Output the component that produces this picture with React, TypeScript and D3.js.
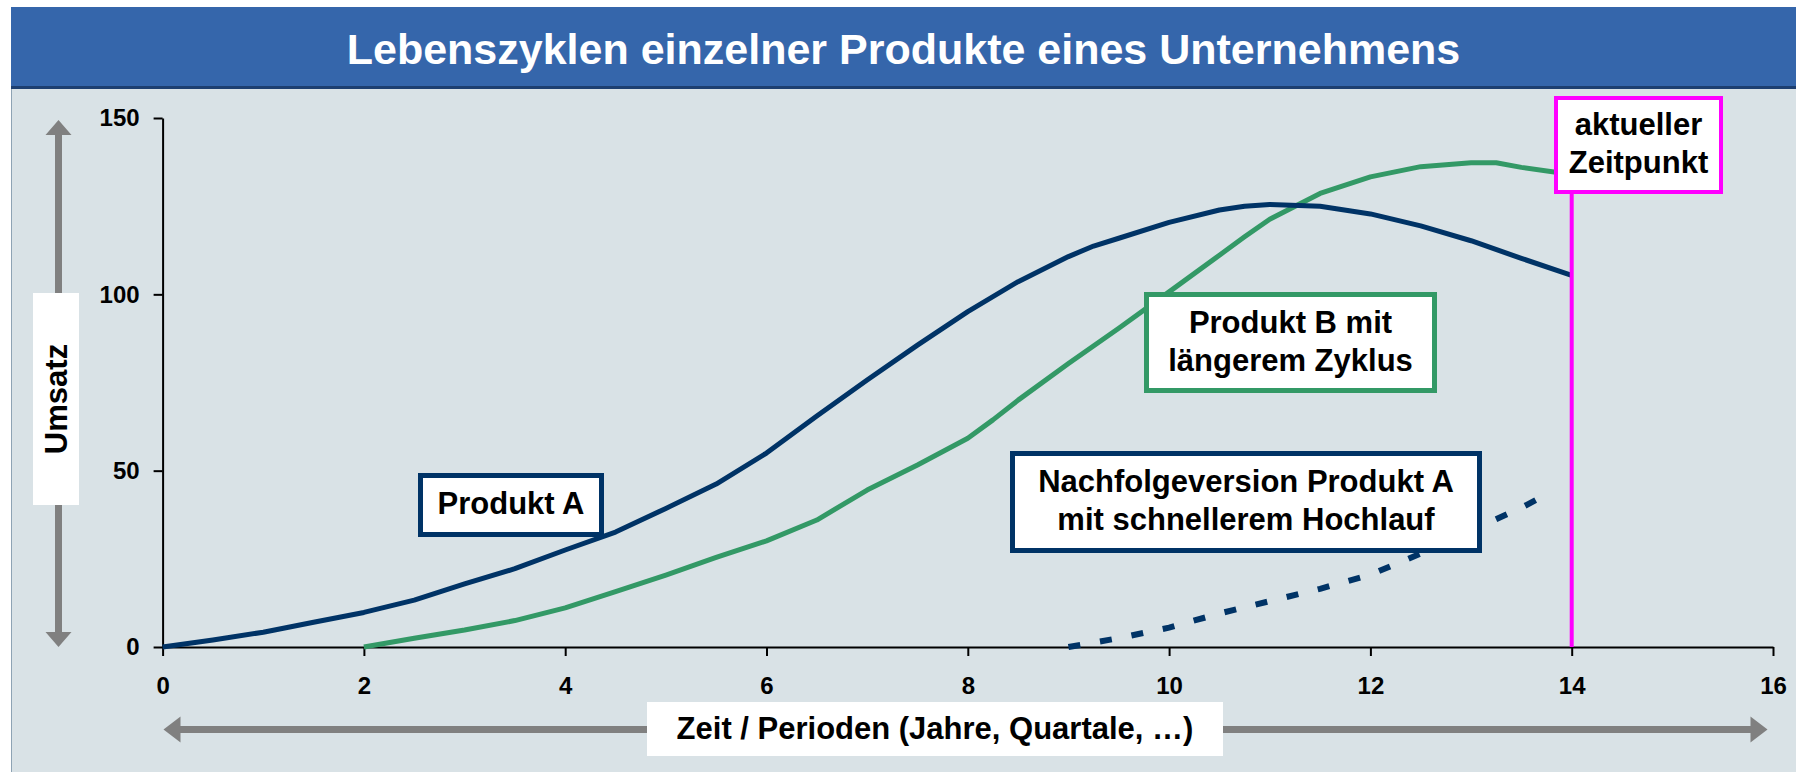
import React, { useEffect, useRef } from "react";
import * as d3 from "d3";

const W = 1796;
const H = 772;
const FONT = "'Liberation Sans', Arial, Helvetica, sans-serif";

// Achsen
const xTicks = [0, 2, 4, 6, 8, 10, 12, 14, 16];
const yTicks = [0, 50, 100, 150];

// Produkt A
const periodsA = [0, 0.5, 1, 1.5, 2, 2.5, 3, 3.5, 4, 4.5, 5, 5.5, 6, 6.5, 7, 7.5, 8, 8.5, 9, 9.25, 9.5, 10, 10.5, 10.75, 11, 11.5, 12, 12.5, 13, 13.5, 14];
const umsatzA = [0, 2, 4.2, 7, 9.8, 13.3, 17.9, 22.2, 27.5, 32.6, 39.3, 46.2, 55, 65.5, 75.7, 85.6, 95.1, 103.6, 110.7, 113.7, 115.9, 120.4, 123.9, 125, 125.5, 125, 122.8, 119.4, 115.2, 110.2, 105.4];

// Produkt B mit längerem Zyklus
const periodsB = [2, 2.5, 3, 3.5, 4, 4.5, 5, 5.5, 6, 6.5, 7, 7.5, 8, 8.25, 8.5, 9, 9.5, 10, 10.5, 10.75, 11, 11.5, 12, 12.5, 13, 13.25, 13.5, 14];
const umsatzB = [0, 2.5, 4.8, 7.5, 11.1, 15.7, 20.4, 25.4, 30.1, 36, 44.5, 51.6, 59.2, 64.4, 70, 80.4, 90.4, 100.7, 111.1, 116.3, 121.3, 128.6, 133.3, 136.2, 137.3, 137.3, 136, 134];

// Nachfolgeversion Produkt A
const periodsNeu = [9, 9.5, 10, 10.5, 11, 11.5, 12, 12.5, 13, 13.5, 13.8];
const umsatzNeu = [0, 2.5, 5.5, 9.5, 13, 16.5, 20.5, 26.5, 33, 39.5, 44];

const aktuellerZeitpunkt = 14;

const NAVY = "#003366";
const GREEN = "#339966";
const MAGENTA = "#ff00ff";
const GREY = "#808080";

export default function App() {
  const ref = useRef<SVGSVGElement | null>(null);

  useEffect(() => {
    const svg = d3.select(ref.current);
    svg.selectAll("*").remove();

    const x = d3.scaleLinear().domain([0, 16]).range([162.6, 1773]);
    const y = d3.scaleLinear().domain([0, 150]).range([647, 118]);

    // Rahmen + Titel
    svg.append("rect").attr("x", 11.5).attr("y", 7.5).attr("width", W).attr("height", H)
      .attr("fill", "#d9e2e6").attr("stroke", "#8ea3b4").attr("stroke-width", 1);
    svg.append("rect").attr("x", 11).attr("y", 7).attr("width", W).attr("height", 80)
      .attr("fill", "#3566ab");
    svg.append("rect").attr("x", 11).attr("y", 86).attr("width", W).attr("height", 3)
      .attr("fill", "#1d3f70");
    svg.append("text").attr("x", (11 + W) / 2).attr("y", 64)
      .attr("text-anchor", "middle").attr("fill", "#fff")
      .style("font", `bold 43px ${FONT}`)
      .text("Lebenszyklen einzelner Produkte eines Unternehmens");

    // Pfeile
    const arrow = (g: any, x1: number, y1: number, x2: number, y2: number) => {
      g.append("line").attr("x1", x1).attr("y1", y1).attr("x2", x2).attr("y2", y2)
        .attr("stroke", GREY).attr("stroke-width", 7);
    };
    const arrows = svg.append("g");
    // vertikal
    arrow(arrows, 58.5, 133, 58.5, 634);
    arrows.append("path").attr("d", "M58.5,120 L71.5,135 L45.5,135 Z").attr("fill", GREY);
    arrows.append("path").attr("d", "M58.5,647 L71.5,632 L45.5,632 Z").attr("fill", GREY);
    // horizontal
    arrow(arrows, 178, 729.5, 1752, 729.5);
    arrows.append("path").attr("d", "M163.5,729.5 L180.5,716.5 L180.5,742.5 Z").attr("fill", GREY);
    arrows.append("path").attr("d", "M1767.5,729.5 L1750.5,716.5 L1750.5,742.5 Z").attr("fill", GREY);

    // Achsenbeschriftungen
    svg.append("rect").attr("x", 33).attr("y", 293).attr("width", 46).attr("height", 212).attr("fill", "#fff");
    svg.append("text").attr("transform", "translate(56,399) rotate(-90)")
      .attr("text-anchor", "middle").attr("dy", "0.36em")
      .style("font", `bold 31px ${FONT}`).text("Umsatz");
    svg.append("rect").attr("x", 647).attr("y", 702).attr("width", 576).attr("height", 54).attr("fill", "#fff");
    svg.append("text").attr("x", 935).attr("y", 738.5).attr("text-anchor", "middle")
      .style("font", `bold 31px ${FONT}`).text("Zeit / Perioden (Jahre, Quartale, …)");

    // Achsen
    const yAxis = d3.axisLeft(y).tickValues(yTicks).tickSize(9).tickSizeOuter(0).tickPadding(14);
    const xAxis = d3.axisBottom(x).tickValues(xTicks).tickSize(9).tickSizeOuter(0).tickPadding(21);
    const gy = svg.append("g").attr("transform", `translate(${x(0)},0)`).call(yAxis);
    const gx = svg.append("g").attr("transform", `translate(0,${y(0)})`).call(xAxis);
    [gx, gy].forEach((g) => {
      g.selectAll("path, line").attr("stroke", "#000").attr("stroke-width", 2);
      g.selectAll("text").attr("fill", "#000").style("font", `bold 24px ${FONT}`);
    });

    // Linien
    const line = d3.line<[number, number]>().x((d) => x(d[0])).y((d) => y(d[1]));
    const pts = (xs: number[], ys: number[]) => xs.map((v, i) => [v, ys[i]] as [number, number]);

    svg.append("path").datum(pts(periodsNeu, umsatzNeu)).attr("d", line)
      .attr("fill", "none").attr("stroke", NAVY).attr("stroke-width", 6)
      .attr("stroke-dasharray", "12 20");
    svg.append("path").datum(pts(periodsB, umsatzB)).attr("d", line)
      .attr("fill", "none").attr("stroke", GREEN).attr("stroke-width", 5)
      .attr("stroke-linejoin", "round");
    svg.append("path").datum(pts(periodsA, umsatzA)).attr("d", line)
      .attr("fill", "none").attr("stroke", NAVY).attr("stroke-width", 5)
      .attr("stroke-linejoin", "round");

    // aktueller Zeitpunkt
    svg.append("line").attr("x1", x(aktuellerZeitpunkt)).attr("x2", x(aktuellerZeitpunkt))
      .attr("y1", y(0)).attr("y2", 190).attr("stroke", MAGENTA).attr("stroke-width", 4);

    // Beschriftungsboxen
    const boxes = [
      { lines: ["Produkt A"], x0: 418, y0: 473, x1: 604, y1: 537, color: NAVY, sw: 5 },
      { lines: ["Produkt B mit", "längerem Zyklus"], x0: 1144, y0: 292, x1: 1437, y1: 393, color: GREEN, sw: 5 },
      { lines: ["Nachfolgeversion Produkt A", "mit schnellerem Hochlauf"], x0: 1010, y0: 451, x1: 1482, y1: 553, color: NAVY, sw: 5 },
      { lines: ["aktueller", "Zeitpunkt"], x0: 1554, y0: 96, x1: 1723, y1: 194, color: MAGENTA, sw: 4 },
    ];
    boxes.forEach((b) => {
      svg.append("rect")
        .attr("x", b.x0 + b.sw / 2).attr("y", b.y0 + b.sw / 2)
        .attr("width", b.x1 - b.x0 - b.sw).attr("height", b.y1 - b.y0 - b.sw)
        .attr("fill", "#fff").attr("stroke", b.color).attr("stroke-width", b.sw);
      const cx = (b.x0 + b.x1) / 2;
      const cy = (b.y0 + b.y1) / 2;
      const t = svg.append("text").attr("text-anchor", "middle").style("font", `bold 31px ${FONT}`);
      if (b.lines.length === 1) {
        t.append("tspan").attr("x", cx).attr("y", cy + 9).text(b.lines[0]);
      } else {
        b.lines.forEach((l, i) => t.append("tspan").attr("x", cx).attr("y", cy - 10 + i * 38).text(l));
      }
    });
  }, []);

  return (
    <div style={{ position: "absolute", left: 0, top: 0 }}>
      <svg ref={ref} width={W} height={H} viewBox={`0 0 ${W} ${H}`} style={{ display: "block" }} />
    </div>
  );
}
